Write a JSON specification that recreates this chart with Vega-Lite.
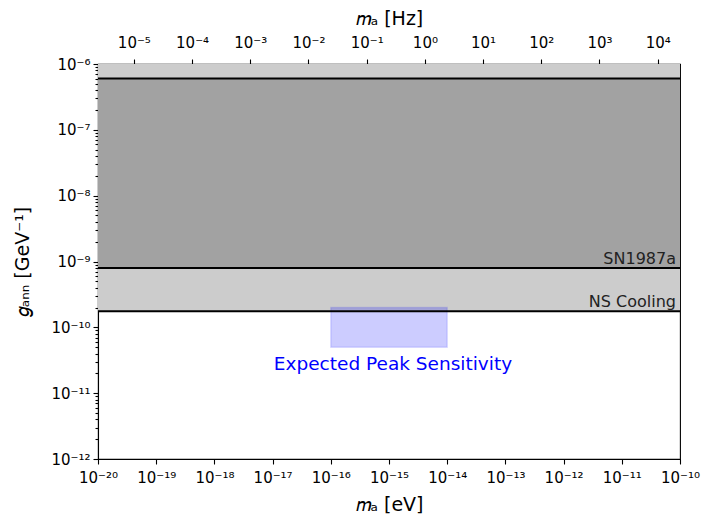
{
  "$schema": "https://vega.github.io/schema/vega-lite/v6.json",
  "autosize": "none",
  "padding": {"left": 98, "top": 64, "right": 23, "bottom": 57},
  "width": 582,
  "height": 395,
  "background": "white",
  "config": {
    "font": "DejaVu Sans",
    "view": {"stroke": "black", "strokeWidth": 1.1},
    "axis": {
      "grid": false,
      "domainColor": "black",
      "domainWidth": 1.1,
      "tickColor": "black",
      "tickWidth": 1.1,
      "labelColor": "black",
      "labelFont": "DejaVu Sans",
      "labelFontSize": 15,
      "labelFlush": false,
      "labelOverlap": false,
      "titleFont": "DejaVu Sans",
      "titleFontSize": 19,
      "titleFontWeight": "normal",
      "titleColor": "black"
    }
  },
  "datasets": {
    "regions": [
      {"name": "NS Cooling", "x": 1e-20, "x2": 1e-10, "y": 1.75e-10, "y2": 1e-6},
      {"name": "SN1987a", "x": 1e-20, "x2": 1e-10, "y": 8e-10, "y2": 6e-7}
    ],
    "lines": [
      {"x": 1e-20, "x2": 1e-10, "y": 6e-7},
      {"x": 1e-20, "x2": 1e-10, "y": 8e-10},
      {"x": 1e-20, "x2": 1e-10, "y": 1.75e-10}
    ],
    "box": [{"x": 1e-16, "x2": 1e-14, "y": 5e-11, "y2": 2e-10}],
    "labels": [
      {"x": 1e-10, "y": 8e-10, "text": "SN1987a"},
      {"x": 1e-10, "y": 1.75e-10, "text": "NS Cooling"}
    ],
    "peak": [{"x": 1e-15, "y": 2.8e-11, "text": "Expected Peak Sensitivity"}],
    "hz": [{"hz": 2.418e-6}, {"hz": 24180}]
  },
  "layer": [
    {
      "layer": [
        {
          "data": {"name": "regions"},
          "mark": {"type": "rect"},
          "encoding": {
            "x": {
              "field": "x", "type": "quantitative",
              "scale": {"type": "log", "domain": [1e-20, 1e-10], "nice": false},
              "axis": {
                "orient": "bottom",
                "title": "𝑚ₐ [eV]",
                "values": [1e-20, 1e-19, 1e-18, 1e-17, 1e-16, 1e-15, 1e-14, 1e-13, 1e-12, 1e-11, 1e-10],
                "tickSize": 5,
                "labelPadding": 6,
                "titlePadding": 10,
                "labelExpr": "'10' + (round(log(datum.value)/LN10) < 0 ? '⁻' : '') + (abs(round(log(datum.value)/LN10)) >= 10 ? ['⁰','¹','²','³','⁴','⁵','⁶','⁷','⁸','⁹'][floor(abs(round(log(datum.value)/LN10))/10)] : '') + ['⁰','¹','²','³','⁴','⁵','⁶','⁷','⁸','⁹'][abs(round(log(datum.value)/LN10)) % 10]"
              }
            },
            "x2": {"field": "x2"},
            "y": {
              "field": "y", "type": "quantitative",
              "scale": {"type": "log", "domain": [1e-12, 1e-6], "nice": false},
              "axis": {
                "title": "𝑔ₐₙₙ [GeV⁻¹]",
                "titlePadding": 18,
                "labelPadding": 3,
                "tickSize": {"condition": {"test": "abs(log(datum.value)/LN10 - round(log(datum.value)/LN10)) < 0.001", "value": 5}, "value": 3},
                "values": [1e-12, 2e-12, 3e-12, 4e-12, 5e-12, 6e-12, 7e-12, 8e-12, 9e-12,
                           1e-11, 2e-11, 3e-11, 4e-11, 5e-11, 6e-11, 7e-11, 8e-11, 9e-11,
                           1e-10, 2e-10, 3e-10, 4e-10, 5e-10, 6e-10, 7e-10, 8e-10, 9e-10,
                           1e-9, 2e-9, 3e-9, 4e-9, 5e-9, 6e-9, 7e-9, 8e-9, 9e-9,
                           1e-8, 2e-8, 3e-8, 4e-8, 5e-8, 6e-8, 7e-8, 8e-8, 9e-8,
                           1e-7, 2e-7, 3e-7, 4e-7, 5e-7, 6e-7, 7e-7, 8e-7, 9e-7, 1e-6],
                "labelExpr": "abs(log(datum.value)/LN10 - round(log(datum.value)/LN10)) < 0.001 ? ('10' + (round(log(datum.value)/LN10) < 0 ? '⁻' : '') + (abs(round(log(datum.value)/LN10)) >= 10 ? ['⁰','¹','²','³','⁴','⁵','⁶','⁷','⁸','⁹'][floor(abs(round(log(datum.value)/LN10))/10)] : '') + ['⁰','¹','²','³','⁴','⁵','⁶','⁷','⁸','⁹'][abs(round(log(datum.value)/LN10)) % 10]) : ''"
              }
            },
            "y2": {"field": "y2"},
            "color": {
              "field": "name", "type": "nominal",
              "scale": {"domain": ["NS Cooling", "SN1987a"], "range": ["#cccccc", "#a2a2a2"]},
              "legend": null
            }
          }
        },
        {
          "data": {"name": "box"},
          "mark": {"type": "rect", "fill": "blue", "fillOpacity": 0.2, "stroke": "blue", "strokeOpacity": 0.12, "strokeWidth": 1.5},
          "encoding": {
            "x": {"field": "x", "type": "quantitative"},
            "x2": {"field": "x2"},
            "y": {"field": "y", "type": "quantitative"},
            "y2": {"field": "y2"}
          }
        },
        {
          "data": {"name": "lines"},
          "mark": {"type": "rule", "color": "black", "strokeWidth": 2},
          "encoding": {
            "x": {"field": "x", "type": "quantitative"},
            "x2": {"field": "x2"},
            "y": {"field": "y", "type": "quantitative"}
          }
        },
        {
          "data": {"name": "labels"},
          "mark": {"type": "text", "align": "right", "baseline": "bottom", "dx": -4, "dy": -1, "fontSize": 16, "color": "#222222"},
          "encoding": {
            "x": {"field": "x", "type": "quantitative"},
            "y": {"field": "y", "type": "quantitative"},
            "text": {"field": "text"}
          }
        },
        {
          "data": {"name": "peak"},
          "mark": {"type": "text", "align": "center", "baseline": "middle", "dx": 4, "fontSize": 18.5, "color": "blue"},
          "encoding": {
            "x": {"field": "x", "type": "quantitative"},
            "y": {"field": "y", "type": "quantitative"},
            "text": {"field": "text"}
          }
        }
      ]
    },
    {
      "data": {"name": "hz"},
      "mark": {"type": "point", "opacity": 0},
      "encoding": {
        "x": {
          "field": "hz", "type": "quantitative",
          "scale": {"type": "log", "domain": [2.418e-6, 24180], "nice": false},
          "axis": {
            "orient": "top",
            "title": "𝑚ₐ [Hz]",
            "values": [1e-5, 1e-4, 1e-3, 1e-2, 1e-1, 1, 10, 100, 1000, 10000],
            "tickSize": 5,
            "labelPadding": 9,
            "titlePadding": 7,
            "labelExpr": "'10' + (round(log(datum.value)/LN10) < 0 ? '⁻' : '') + (abs(round(log(datum.value)/LN10)) >= 10 ? ['⁰','¹','²','³','⁴','⁵','⁶','⁷','⁸','⁹'][floor(abs(round(log(datum.value)/LN10))/10)] : '') + ['⁰','¹','²','³','⁴','⁵','⁶','⁷','⁸','⁹'][abs(round(log(datum.value)/LN10)) % 10]"
          }
        }
      }
    }
  ],
  "resolve": {"scale": {"x": "independent"}}
}
